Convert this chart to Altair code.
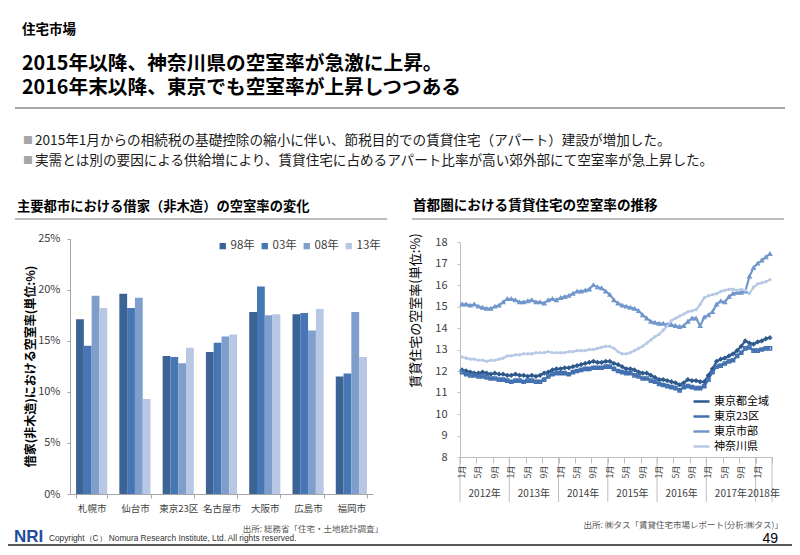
import altair as alt
import pandas as pd

JP = "Noto Sans CJK JP"

# ---------------- data: bar chart ----------------
cities = ["札幌市", "仙台市", "東京23区", "名古屋市", "大阪市", "広島市", "福岡市"]
survey_years = ["98年", "03年", "08年", "13年"]
rate_98 = [17.1, 19.6, 13.5, 13.9, 17.8, 17.6, 11.5]
rate_03 = [14.5, 18.2, 13.4, 14.8, 20.3, 17.7, 11.8]
rate_08 = [19.4, 19.2, 12.8, 15.4, 17.5, 16.0, 17.8]
rate_13 = [18.2, 9.3, 14.3, 15.6, 17.6, 18.1, 13.4]
bar_colors = ["#3B6393", "#4676B4", "#7F9ECC", "#B8C7E3"]
pct_ticks = [0, 5, 10, 15, 20, 25]

# ---------------- data: line chart ----------------
years = [2012, 2013, 2014, 2015, 2016, 2017, 2018]
months_in_year = [12, 12, 12, 12, 12, 12, 4]
labelled_months = [1, 5, 9]
series_names = ["東京都全域", "東京23区", "東京市部", "神奈川県"]
tokyo_all = [12.05, 12.0, 11.95, 11.9, 11.9, 11.95, 11.9, 11.85, 11.9, 11.85, 11.85, 11.8,
             11.8, 11.85, 11.8, 11.8, 11.75, 11.8, 11.75, 11.8, 11.9, 11.95, 12.05, 12.1,
             12.1, 12.15, 12.15, 12.2, 12.25, 12.3, 12.35, 12.4, 12.45, 12.4, 12.4, 12.45,
             12.45, 12.35, 12.3, 12.2, 12.1, 12.1, 12.05, 11.95, 11.9, 11.9, 11.8, 11.7,
             11.6, 11.6, 11.55, 11.5, 11.45, 11.35, 11.45, 11.6, 11.55, 11.55, 11.5, 11.5,
             11.8, 12.1, 12.45, 12.55, 12.6, 12.7, 12.8, 12.95, 13.15, 13.4, 13.3, 13.25,
             13.35, 13.4, 13.5, 13.55]
tokyo_23 = [11.95, 11.85, 11.8, 11.8, 11.75, 11.75, 11.7, 11.65, 11.65, 11.6, 11.6, 11.55,
            11.5, 11.55, 11.55, 11.5, 11.55, 11.55, 11.5, 11.5, 11.6, 11.75, 11.85, 11.9,
            11.9, 11.9, 11.85, 11.95, 12.0, 12.05, 12.1, 12.1, 12.15, 12.15, 12.15, 12.2,
            12.2, 12.1, 12.0, 11.95, 11.9, 11.9, 11.8, 11.75, 11.65, 11.65, 11.55, 11.5,
            11.4, 11.35, 11.3, 11.25, 11.2, 11.1, 11.25, 11.3, 11.25, 11.2, 11.2, 11.3,
            11.6, 11.95, 12.2, 12.25, 12.35, 12.45, 12.5, 12.7, 12.85, 13.05, 13.1, 12.95,
            12.95, 13.0, 13.05, 13.05]
tokyo_city = [15.1, 15.1, 15.05, 15.1, 15.0, 14.95, 14.9, 14.9, 15.0, 15.05, 15.2, 15.35,
              15.35, 15.3, 15.2, 15.2, 15.25, 15.3, 15.2, 15.2, 15.15, 15.3, 15.35, 15.3,
              15.4, 15.45, 15.5, 15.6, 15.7, 15.7, 15.75, 15.8, 16.0, 15.9, 15.85, 15.7,
              15.55, 15.3, 15.15, 15.05, 15.0, 14.95, 14.9, 14.8, 14.6, 14.45, 14.3, 14.25,
              14.2, 14.2, 14.15, 14.15, 14.1, 14.05, 14.1, 14.3, 14.45, 14.45, 14.1, 14.5,
              14.6, 14.75, 15.1, 15.25, 15.2, 15.45, 15.6, 15.65, 15.65, 15.7, 16.4, 16.8,
              17.0, 17.15, 17.3, 17.45]
kanagawa = [12.65, 12.6, 12.55, 12.55, 12.5, 12.5, 12.45, 12.5, 12.5, 12.55, 12.6, 12.7,
            12.7, 12.75, 12.75, 12.8, 12.8, 12.8, 12.85, 12.85, 12.85, 12.9, 12.85, 12.85,
            12.85, 12.85, 12.9, 12.9, 12.95, 12.95, 12.95, 13.0, 13.0, 13.05, 13.1, 13.15,
            13.15, 13.05, 12.9, 12.8, 12.8, 12.85, 12.95, 13.05, 13.15, 13.3, 13.45, 13.6,
            13.7, 13.9, 14.1, 14.35, 14.45, 14.55, 14.65, 14.75, 14.8, 14.85, 15.1, 15.4,
            15.5, 15.55, 15.6, 15.7, 15.75, 15.8, 15.8, 15.75, 15.8, 15.75, 15.6, 15.9,
            16.05, 16.1, 16.15, 16.25]
line_colors = ["#2E598C", "#4271B1", "#7297CB", "#B7C9E6"]
marker_shapes = ["diamond", "square", "triangle-up",
                 "M-1,0L1,0M0,-1L0,1M-0.7,-0.7L0.7,0.7M-0.7,0.7L0.7,-0.7"]
rate_ticks = [8, 9, 10, 11, 12, 13, 14, 15, 16, 17, 18]

# ---------------- texts ----------------
section_label = "住宅市場"
headline_1 = "2015年以降、神奈川県の空室率が急激に上昇。"
headline_2 = "2016年末以降、東京でも空室率が上昇しつつある"
bullet_1 = "2015年1月からの相続税の基礎控除の縮小に伴い、節税目的での賃貸住宅（アパート）建設が増加した。"
bullet_2 = "実需とは別の要因による供給増により、賃貸住宅に占めるアパート比率が高い郊外部にて空室率が急上昇した。"
left_heading = "主要都市における借家（非木造）の空室率の変化"
right_heading = "首都圏における賃貸住宅の空室率の推移"
left_ytitle = "借家(非木造)における空室率(単位:%)"
right_ytitle = "賃貸住宅の空室率(単位:%)"
left_source = "出所: 総務省「住宅・土地統計調査」"
right_source = "出所: ㈱タス「賃貸住宅市場レポート(分析:㈱タス)」"
copyright_text = "Copyright（C） Nomura Research Institute, Ltd. All rights reserved."
logo_text = "NRI"
page_no = "49"

# ---------------- tables ----------------
bar_rows = []
for ci, c in enumerate(cities):
    for yr, arr in zip(survey_years, [rate_98, rate_03, rate_08, rate_13]):
        bar_rows.append({"city": c, "year": yr, "rate": arr[ci]})
bar_df = pd.DataFrame(bar_rows)

month_rows = []
k = 0
for y, n in zip(years, months_in_year):
    for m in range(1, n + 1):
        month_rows.append({"idx": k, "year": y, "month": m})
        k += 1
month_df = pd.DataFrame(month_rows)
n_months = len(month_df)

line_rows = []
for name, vals in zip(series_names, [tokyo_all, tokyo_23, tokyo_city, kanagawa]):
    for i, v in enumerate(vals):
        line_rows.append({"idx": i, "series": name, "rate": v})
line_df = pd.DataFrame(line_rows)

mlab_df = month_df[month_df["month"].isin(labelled_months)].copy()
mlab_df["label"] = mlab_df["month"].astype(str) + "月"
year_df = month_df.groupby("year", as_index=False)["idx"].agg(["mean", "min", "max"]).reset_index()
year_df["label"] = year_df["year"].astype(str) + "年"
sep_vals = [v - 0.5 for v in year_df["min"].tolist()] + [year_df["max"].tolist()[-1] + 0.5]
sep_df = pd.DataFrame({"idx": sep_vals})

# ---------------- bar chart ----------------
bars = alt.Chart(bar_df).mark_bar().encode(
    x=alt.X("city:N", sort=cities,
            scale=alt.Scale(range=[62, 365], paddingInner=0.28, paddingOuter=0.14),
            axis=alt.Axis(orient="bottom", offset=-53, title=None, labelAngle=0,
                          tickBand="extent", tickSize=4, tickColor="#A6A6A6",
                          domainColor="#A6A6A6", labelFontSize=9.5, labelColor="#404040",
                          labelPadding=5, labelFont=JP)),
    xOffset=alt.XOffset("year:N", sort=survey_years,
                        scale=alt.Scale(paddingInner=0, paddingOuter=0)),
    y=alt.Y("rate:Q", scale=alt.Scale(domain=[0, 25], range=[486, 230.5], nice=False),
            axis=alt.Axis(orient="left", offset=-62, values=pct_ticks,
                          labelExpr="datum.value + '%'", labelFontSize=11,
                          labelColor="#404040", labelPadding=7, tickSize=3,
                          tickColor="#A6A6A6", domainColor="#A6A6A6",
                          title=left_ytitle, titleX=-40, titleY=358, titleAngle=270,
                          titleAlign="center", titleBaseline="middle",
                          titleFontSize=12, titleFontWeight="bold", titleColor="#000000",
                          titleFont=JP)),
    color=alt.Color("year:N", sort=survey_years,
                    scale=alt.Scale(domain=survey_years, range=bar_colors),
                    legend=alt.Legend(title=None, orient="none", legendX=209, legendY=232,
                                      direction="horizontal", columns=4, symbolType="square",
                                      symbolSize=40, labelFontSize=11.5, labelColor="#404040",
                                      columnPadding=4, labelOffset=2, padding=0,
                                      symbolStrokeWidth=0)),
)

# ---------------- line chart ----------------
xq = alt.X("idx:Q",
           scale=alt.Scale(domain=[-0.5, n_months - 0.5], range=[452, 764], nice=False, zero=False),
           axis=alt.Axis(orient="bottom", offset=-90,
                         values=[i - 0.5 for i in range(n_months + 1)],
                         labels=False, title=None, tickSize=6, tickColor="#BFBFBF",
                         domainColor="#BFBFBF", grid=False))
yq = alt.Y("rate:Q",
           scale=alt.Scale(domain=[8, 18], range=[449, 234], nice=False, zero=False),
           axis=alt.Axis(orient="left", offset=-452, values=rate_ticks,
                         title=right_ytitle, titleX=-45, titleY=302, titleAngle=270,
                         titleAlign="center", titleBaseline="middle", titleFontSize=13,
                         titleFontWeight="normal", titleColor="#000000", titleFont=JP,
                         labelFontSize=11, labelColor="#404040", labelPadding=10,
                         tickSize=3, tickColor="#BFBFBF", domainColor="#BFBFBF"))
line_color = alt.Color("series:N", sort=series_names,
                       scale=alt.Scale(domain=series_names, range=line_colors),
                       legend=alt.Legend(title=None, orient="none", legendX=684, legendY=384,
                                         symbolType="stroke", symbolSize=256,
                                         symbolStrokeWidth=2.5, labelFontSize=11,
                                         labelColor="#000000", rowPadding=0, padding=0,
                                         labelOffset=3))

lines = alt.Chart(line_df).mark_line(strokeWidth=2.2).encode(
    x=xq, y=yq, color=line_color)
points = alt.Chart(line_df).mark_point(filled=False, size=10, strokeWidth=1.5, opacity=1).encode(
    x="idx:Q", y="rate:Q", color=line_color,
    shape=alt.Shape("series:N", scale=alt.Scale(domain=series_names, range=marker_shapes),
                    legend=None))
month_labels = alt.Chart(mlab_df).mark_text(
    angle=270, fontSize=8.5, color="#404040", align="center", baseline="middle", font=JP
).encode(x="idx:Q", y=alt.value(464), text="label:N")
year_labels = alt.Chart(year_df).mark_text(
    fontSize=10, color="#404040", align="center", baseline="middle", font=JP
).encode(x="mean:Q", y=alt.value(486), text="label:N")
year_seps = alt.Chart(sep_df).mark_rule(color="#BFBFBF", strokeWidth=1).encode(
    x="idx:Q", y=alt.value(449), y2=alt.value(494))

line_group = alt.layer(year_seps, lines, points, month_labels, year_labels)

# ---------------- slide texts ----------------
one = alt.Data(values=[{"k": 1}])


def txt(s, x, y, size, color="#000000", weight="normal", align="left", font=JP):
    return alt.Chart(one).mark_text(
        fontSize=size, color=color, fontWeight=weight, align=align, baseline="middle", font=font
    ).encode(x=alt.value(x), y=alt.value(y), text=alt.value(s))


def hline(x1, x2, y, color="#A6A6A6", w=1.5):
    return alt.Chart(one).mark_rule(color=color, strokeWidth=w).encode(
        x=alt.value(x1), x2=alt.value(x2), y=alt.value(y))


decor = [
    txt(section_label, 14, 22, 13.5, weight="bold"),
    txt(headline_1, 14, 56, 19.7, weight="bold"),
    txt(headline_2, 14, 80, 19.7, weight="bold"),
    hline(7, 777, 100, w=2),
    txt("■", 15, 133, 10, color="#A6A6A6"),
    txt(bullet_1, 27, 133, 13.6, color="#1A1A1A"),
    txt("■", 15, 153, 10, color="#A6A6A6"),
    txt(bullet_2, 27, 153, 13.6, color="#1A1A1A"),
    txt(left_heading, 9, 199, 13.3, weight="bold"),
    hline(7, 379, 211),
    txt(right_heading, 405, 198, 13.6, weight="bold"),
    hline(404, 776, 211),
    txt(left_source, 375, 521, 8.5, color="#595959", align="right"),
    txt(right_source, 775, 517, 8.5, color="#595959", align="right"),
    txt(logo_text, 6, 529, 17, color="#1E4D9B", weight="bold", font="Liberation Sans"),
    txt(copyright_text, 41, 531, 8.3, color="#333333", font="Liberation Sans"),
    txt(page_no, 770, 531, 14, align="right", font="Liberation Sans"),
    hline(0, 784, 537, color="#595959", w=2),
]

chart = alt.layer(bars, line_group, *decor).resolve_scale(
    x="independent", y="independent", color="independent"
).properties(
    width=784, height=539, padding=0,
    autosize=alt.AutoSizeParams(type="none"),
).configure_view(stroke=None).configure_axis(grid=False, labelFont=JP, titleFont=JP).configure_legend(
    labelFont=JP)

chart.save("out.html", embed_options={"renderer": "svg", "actions": False})
